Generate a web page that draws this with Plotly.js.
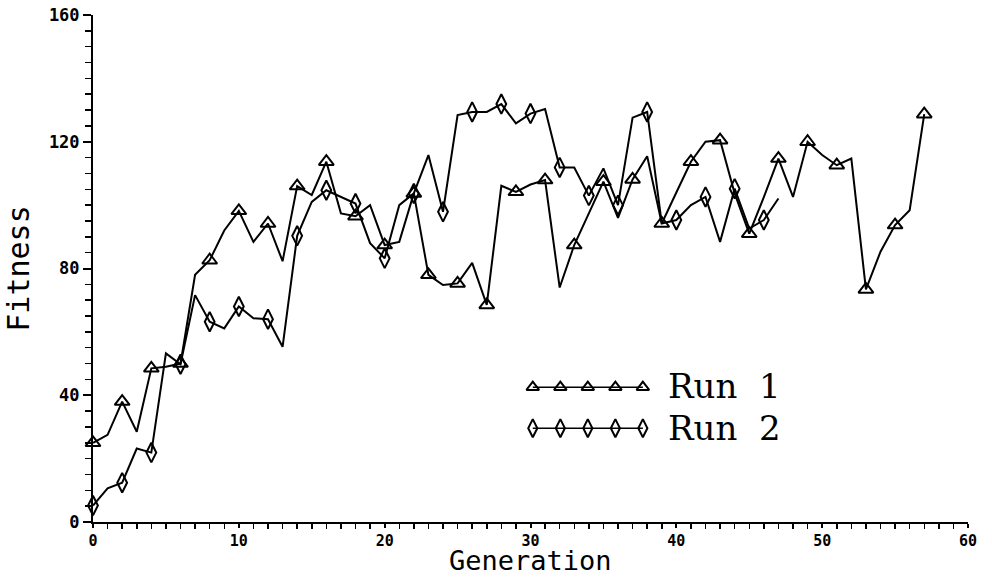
<!DOCTYPE html>
<html>
<head>
<meta charset="utf-8">
<script src="https://cdn.plot.ly/plotly-3.0.1.min.js"></script>
<style>html,body{margin:0;padding:0;background:#fff;}#chart{width:992px;height:578px;}</style>
</head>
<body>
<div id="chart"></div>
<script>
// ---- data ----
const run1Generations = [0,1,2,3,4,5,6,7,8,9,10,11,12,13,14,15,16,17,18,19,20,21,22,23,24,25,26,27,28,29,30,31,32,33,34,35,36,37,38,39,40,41,42,43,44,45,46,47,48,49,50,51,52,53,54,55,56,57];
const run1Fitness = [25,27.5,38,28.5,48.5,49,50,78,82.6,92,98.2,88.4,94.2,82.3,106,103.2,113.7,97.4,96.5,100,87.4,88.4,103.7,78,74.8,75.3,81.8,68.5,106.1,104.2,106.5,107.9,74,87.4,97.4,107.4,96,108.1,115.4,94.2,104,113.7,120,120.5,103.7,91,102.5,114.7,102.6,120,115.8,112.6,114.7,73.4,85.3,93.7,98.4,128.7];
const run1MarkedGenerations = [0,2,4,6,8,10,12,14,16,18,20,22,23,25,27,29,31,33,35,37,39,41,43,45,47,49,51,53,55,57];

const run2Generations = [0,1,2,3,4,5,6,7,8,9,10,11,12,13,14,15,16,17,18,19,20,21,22,23,24,25,26,27,28,29,30,31,32,33,34,35,36,37,38,39,40,41,42,43,44,45,46,47];
const run2Fitness = [5.2,10.6,12.4,23.2,21.9,53.2,49.8,71.6,63.2,61.1,68,64.3,64,55.3,90.3,101,104.7,102.6,100.5,88,83.2,100,103.7,115.8,97.9,128.4,129.4,129.4,131.9,125.8,128.9,130.3,111.9,111.9,103,111.6,100,127.6,129.4,94.2,95.3,100,102.6,88.4,105.2,92.6,95.3,102.1];
const run2MarkedGenerations = [0,2,4,6,8,10,12,14,16,18,20,22,24,26,28,30,32,34,36,38,40,42,44,46];

const seriesNames = ["Run\u00a0\u00a01", "Run\u00a0\u00a02"];
const xTitle = "Generation";
const yTitle = "Fitness";

// ---- chart ----
const lineStyle = {color: "#000", width: 2};
const triMarker = {symbol: "triangle-up-open", size: 13, color: "#000", line: {color: "#000", width: 2}};
const diaMarker = {symbol: "diamond-tall-open", size: 14, color: "#000", line: {color: "#000", width: 2}};

function pick(gens, vals, marked) {
  return marked.map(g => vals[gens.indexOf(g)]);
}

// legend samples on a hidden overlay axis (0..1 over the plot area)
const legX = [0.5026, 0.5341, 0.5655, 0.5970, 0.6284];
const legY1 = legX.map(() => 0.266);
const legY2 = legX.map(() => 0.185);

const traces = [
  {x: run1Generations, y: run1Fitness, mode: "lines", line: lineStyle, hoverinfo: "skip", showlegend: false},
  {x: run1MarkedGenerations, y: pick(run1Generations, run1Fitness, run1MarkedGenerations), mode: "markers", marker: triMarker, cliponaxis: false, showlegend: false},
  {x: run2Generations, y: run2Fitness, mode: "lines", line: lineStyle, hoverinfo: "skip", showlegend: false},
  {x: run2MarkedGenerations, y: pick(run2Generations, run2Fitness, run2MarkedGenerations), mode: "markers", marker: diaMarker, cliponaxis: false, showlegend: false},
  {x: legX, y: legY1, xaxis: "x2", yaxis: "y2", mode: "lines+markers", line: {color: "#000", width: 1.5}, marker: {symbol: "triangle-up-open", size: 11, line: {color: "#000", width: 2}, color: "#000"}, showlegend: false, cliponaxis: false},
  {x: legX, y: legY2, xaxis: "x2", yaxis: "y2", mode: "lines+markers", line: {color: "#000", width: 1.5}, marker: {symbol: "diamond-tall-open", size: 13, line: {color: "#000", width: 2}, color: "#000"}, showlegend: false, cliponaxis: false}
];

const tickFont = {family: "DejaVu Sans Mono", size: 17, color: "#000", weight: "bold"};
const xTickFont = {family: "DejaVu Sans Mono", size: 15, color: "#000", weight: "bold"};
const titleFont = {family: "DejaVu Sans Mono", size: 30, color: "#000"};

const layout = {
  width: 992, height: 578,
  margin: {l: 93, r: 24, t: 15, b: 56, pad: 0},
  paper_bgcolor: "#fff", plot_bgcolor: "#fff",
  showlegend: false,
  xaxis: {
    range: [0, 60], dtick: 10, tick0: 0,
    showgrid: false, zeroline: false,
    showline: true, linecolor: "#000", linewidth: 2,
    ticks: "outside", ticklen: 4, tickwidth: 2, tickcolor: "#000",
    minor: {dtick: 1, ticks: "outside", ticklen: 5, tickwidth: 1.5, tickcolor: "#000", showgrid: false},
    tickfont: xTickFont
  },
  yaxis: {
    range: [0, 160], dtick: 40, tick0: 0,
    showgrid: false, zeroline: false,
    showline: true, linecolor: "#000", linewidth: 2,
    ticks: "outside", ticklen: 8, tickwidth: 2, tickcolor: "#000",
    minor: {dtick: 5, ticks: "outside", ticklen: 6, tickwidth: 1.5, tickcolor: "#000", showgrid: false},
    tickfont: tickFont,
    title: {text: yTitle, font: titleFont, standoff: 10}
  },
  xaxis2: {overlaying: "x", range: [0, 1], visible: false},
  yaxis2: {overlaying: "y", range: [0, 1], visible: false},
  annotations: [
    {xref: "paper", yref: "paper", x: 0.5, y: -0.0765, xanchor: "center", yanchor: "middle", text: xTitle, showarrow: false, font: {family: "DejaVu Sans Mono", size: 27, color: "#000"}},
    {xref: "paper", yref: "paper", x: 0.655, y: 0.268, xanchor: "left", yanchor: "middle", text: seriesNames[0], showarrow: false, font: {family: "DejaVu Serif", size: 34, color: "#000"}},
    {xref: "paper", yref: "paper", x: 0.655, y: 0.185, xanchor: "left", yanchor: "middle", text: seriesNames[1], showarrow: false, font: {family: "DejaVu Serif", size: 34, color: "#000"}}
  ]
};

Plotly.newPlot("chart", traces, layout, {staticPlot: true, displayModeBar: false});
</script>
</body>
</html>
